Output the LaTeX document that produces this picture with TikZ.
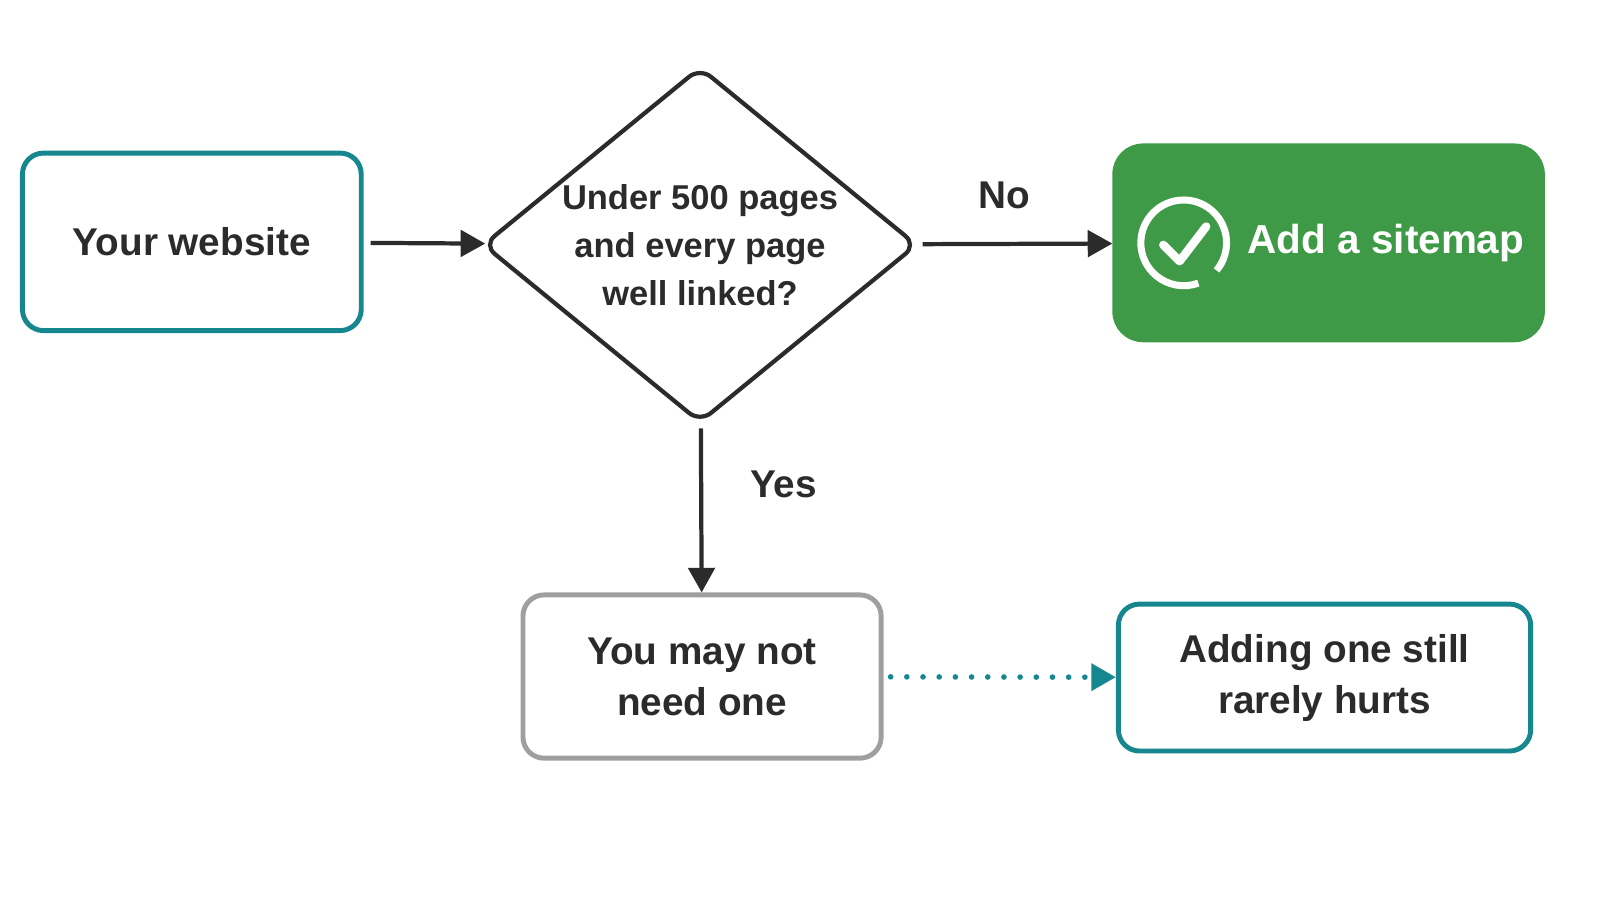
\documentclass[tikz,border=0pt]{standalone}
\usepackage{fontspec}
\setmainfont{Liberation Sans}
\usetikzlibrary{shapes.geometric,arrows.meta,positioning}
\definecolor{teal}{HTML}{16878F}
\definecolor{okgreen}{HTML}{3E9A47}
\definecolor{ink}{HTML}{2B2B2B}
\tikzset{
  box/.style={draw=teal, line width=1.4pt, rounded corners=6pt, fill=white,
    align=center, text=ink, font=\bfseries\fontsize{11}{14.5}\selectfont},
  flow/.style={-{Triangle[length=7pt,width=7.5pt]}, line width=1.2pt, draw=ink, shorten <=2pt},
  lbl/.style={text=ink, font=\bfseries\fontsize{11}{14}\selectfont}
}
\begin{document}
\begin{tikzpicture}[x=0.0102cm, y=-0.0102cm]
  \useasboundingbox (0,0) rectangle (1568,882);

  \node[box, minimum width=332*0.0102cm, minimum height=174*0.0102cm] (site) at (188,237) {Your website};
  \node[diamond, draw=ink, line width=1.2pt, rounded corners=4pt, align=center, text=ink,
    font=\bfseries\fontsize{9.8}{13.6}\selectfont, inner sep=0pt, outer sep=0pt,
    minimum width=424*0.0102cm, minimum height=347*0.0102cm, aspect=1.22] (ask) at (686,240)
    {Under 500 pages\\and every page\\well linked?};
  \node[box, draw=okgreen, fill=okgreen, rounded corners=8pt, minimum width=419*0.0102cm,
    minimum height=190*0.0102cm] (add) at (1302,238) {};
  \node[text=white, font=\bfseries\fontsize{11.5}{14}\selectfont, anchor=west, inner sep=0pt] (addtxt) at (1222,238) {Add a sitemap};
  \node[box, draw=gray!75, minimum width=351*0.0102cm, minimum height=160*0.0102cm] (maybe) at (688,663) {You may not\\need one};
  \node[box, minimum width=404*0.0102cm, minimum height=144*0.0102cm] (still) at (1298,664) {Adding one still\\rarely hurts};

  % check icon
  \draw[white, line width=2pt] (1160,238) ++(40:42) arc[start angle=40, end angle=-290, radius=42];
  \draw[white, line width=2.4pt, line cap=round, line join=round] (1140,240) -- (1156,256) -- (1182,222);

  \draw[flow] (site) -- (ask);
  \draw[flow] (ask) -- node[lbl, above=6pt, pos=0.45] (no) {No} (add);
  \draw[flow] (ask) -- node[lbl, right=10pt, pos=0.37] (yes) {Yes} (maybe);
  \draw[-{Triangle[length=7pt,width=7.5pt]}, draw=teal, line width=1.6pt,
    dash pattern=on 0pt off 4.6pt, line cap=round, shorten <=2pt] (maybe) -- (still);
\end{tikzpicture}
\end{document}
